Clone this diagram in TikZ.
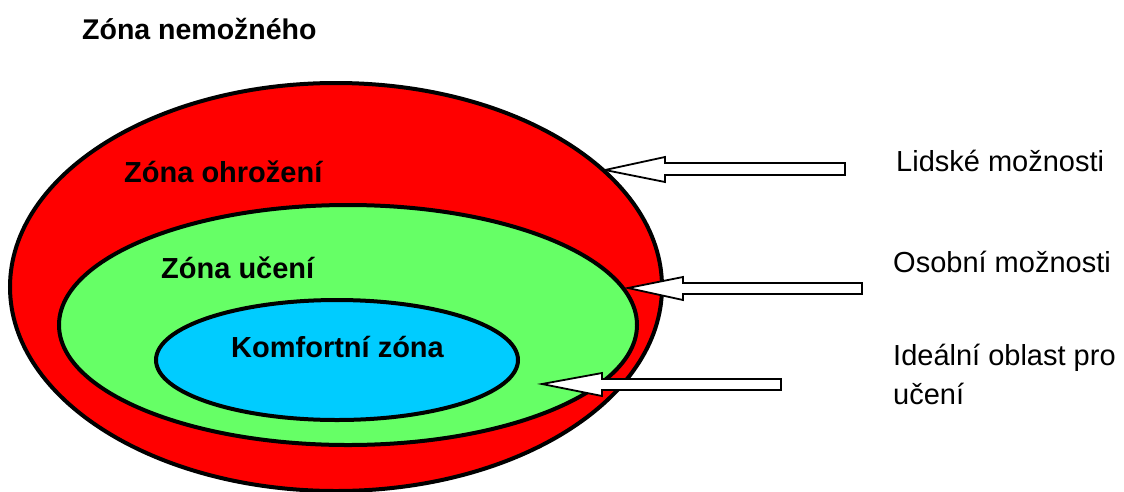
\documentclass[tikz,border=0pt]{standalone}
\usepackage{fontspec}
\setmainfont{Liberation Sans}
\usetikzlibrary{shapes.geometric}
\begin{document}
\begin{tikzpicture}[x=1pt,y=-1pt,
  zone/.style={draw=black,line width=4pt},
  lbl/.style={anchor=base west,inner sep=0pt,font=\fontsize{29}{38}\selectfont\bfseries},
  side/.style={anchor=base west,inner sep=0pt,align=left,font=\fontsize{29}{39}\selectfont},
  blockarrow/.style={draw=black,fill=white,line width=1.8pt,line join=miter}]
\useasboundingbox (0,0) rectangle (1124,491);
% zones
\draw[zone,fill={rgb,255:red,255;green,0;blue,0}] (336,287) ellipse [x radius=326, y radius=204];
\draw[zone,fill={rgb,255:red,102;green,255;blue,102}] (348,325) ellipse [x radius=289, y radius=120];
\draw[zone,fill={rgb,255:red,0;green,204;blue,255}] (337,360) ellipse [x radius=181, y radius=60];
% labels
\node[lbl,font=\fontsize{28.5}{37}\selectfont\bfseries] (title) at (82,39) {Zóna nemožného};
\node[lbl] (ohr) at (124,182) {Zóna ohrožení};
\node[lbl] (uc) at (161,278) {Zóna učení};
\node[lbl] (kom) at (231,357) {Komfortní zóna};
\node[side] (lid) at (896,171) {Lidské možnosti};
\node[side] (oso) at (893,272) {Osobní možnosti};
\node[side,anchor=north west] (ide) at (893,344) {Ideální oblast pro\\učení};
% block arrows
\draw[blockarrow] (845,163) -- (665,163) -- (665,157) -- (605,170) -- (665,182) -- (665,175) -- (845,175) -- cycle;
\draw[blockarrow] (862,283) -- (683,283) -- (683,277) -- (628,288) -- (683,300) -- (683,294) -- (862,294) -- cycle;
\draw[blockarrow] (781,379) -- (602,379) -- (602,373) -- (542,384) -- (602,396) -- (602,390) -- (781,390) -- cycle;
\end{tikzpicture}
\end{document}
